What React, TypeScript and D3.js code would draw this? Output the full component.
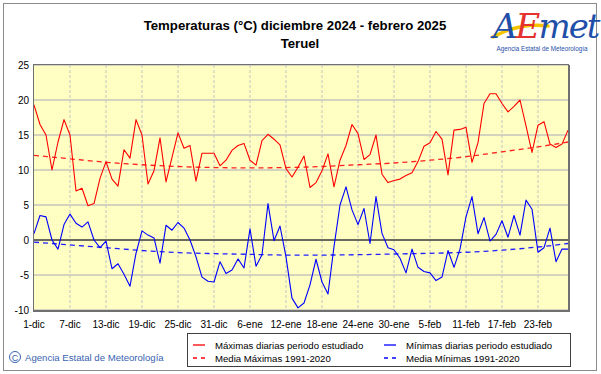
import React from "react";
import * as d3 from "d3";

const xTickDays = [0, 6, 12, 18, 24, 30, 36, 42, 48, 54, 60, 66, 72, 78, 84];
const xTickLabels = ["1-dic", "7-dic", "13-dic", "19-dic", "25-dic", "31-dic", "6-ene", "12-ene", "18-ene", "24-ene", "30-ene", "5-feb", "11-feb", "17-feb", "23-feb"];
const yTicks = [-10, -5, 0, 5, 10, 15, 20, 25];

// Daily maximum temperatures, 1 Dec 2024 .. 28 Feb 2025
const maxTemps = [
  19.3, 16.5, 15.0, 10.0, 14.0, 17.2, 15.0, 7.0, 7.4, 4.9,
  5.2, 8.8, 11.2, 8.7, 7.7, 12.9, 11.7, 17.2, 15.0, 8.0,
  9.9, 14.6, 8.3, 11.8, 15.3, 13.1, 13.5, 8.4, 12.4, 12.4,
  12.4, 10.6, 11.4, 12.8, 13.5, 13.8, 11.4, 10.7, 14.2, 15.1,
  14.4, 13.6, 10.2, 9.0, 10.4, 12.0, 7.5, 8.2, 9.9, 12.3,
  7.6, 11.4, 13.5, 16.5, 15.2, 11.5, 12.2, 15.0, 9.4, 8.2,
  8.5, 8.7, 9.2, 9.6, 11.2, 13.4, 13.9, 15.5, 14.4, 9.3,
  15.7, 15.8, 16.1, 11.1, 13.9, 19.5, 20.9, 20.9, 19.5, 18.3,
  19.1, 20.0, 16.3, 12.5, 16.4, 16.9, 13.7, 13.2, 13.7, 15.7,
];

// Daily minimum temperatures
const minTemps = [
  0.9, 3.5, 3.3, 0.0, -1.3, 2.2, 3.7, 2.4, 1.85, 2.6,
  0.0, -1.1, -0.15, -4.1, -3.4, -4.9, -6.6, -1.9, 1.3, 0.7,
  0.3, -3.3, 2.1, 1.4, 2.5, 1.7, 0.0, -2.4, -5.3, -5.9,
  -6.0, -3.1, -4.8, -4.3, -2.7, -4.0, 1.6, -3.75, -2.1, 5.2,
  -0.1, 2.0, -2.4, -8.3, -9.7, -9.0, -6.4, -2.75, -6.0, -7.7,
  -0.95, 5.0, 7.6, 4.3, 2.2, 4.5, -0.5, 6.2, 0.95, -1.1,
  -1.4, -2.6, -4.7, -1.3, -3.9, -4.5, -4.7, -5.8, -5.3, -1.5,
  -3.9, -1.3, 3.3, 6.2, 0.9, 3.2, -0.15, 0.8, 2.75, 0.4,
  3.5, 0.7, 5.7, 4.4, -1.75, -1.1, 1.7, -3.1, -1.3, -1.3,
];

// Climatological means 1991-2020 sampled at these days (smooth curves)
const normDays = [0, 6, 12, 18, 24, 30, 36, 42, 48, 54, 60, 66, 72, 78, 84, 89];
const normMax = [12.1, 11.6, 11.1, 10.75, 10.5, 10.35, 10.3, 10.35, 10.5, 10.75, 11.0, 11.4, 11.9, 12.6, 13.3, 14.0];
const normMin = [-0.3, -0.7, -1.1, -1.5, -1.8, -1.95, -2.05, -2.15, -2.15, -2.1, -2.0, -1.9, -1.75, -1.45, -1.0, -0.5];

const legendItems = [
  { label: "Máximas diarias periodo estudiado", color: "#ff0000", dash: "" },
  { label: "Mínimas diarias periodo estudiado", color: "#0000ff", dash: "" },
  { label: "Media Máximas 1991-2020", color: "#ff0000", dash: "4,4" },
  { label: "Media Mínimas 1991-2020", color: "#0000ff", dash: "4,4" },
];

const FONT = "Arial, 'Liberation Sans', Helvetica, sans-serif";

export default function App() {
  const W = 601, H = 374;
  const left = 34, right = 568, top = 65, bottom = 310;
  const x = d3.scaleLinear().domain([0, 89]).range([left, right]);
  const y = d3.scaleLinear().domain([-10, 25]).range([bottom, top]);

  const dayLine = d3.line<number>().x((_, i) => x(i)).y((d) => y(d));
  const normLine = d3
    .line<[number, number]>()
    .x((d) => x(d[0]))
    .y((d) => y(d[1]))
    .curve(d3.curveMonotoneX);

  const normMaxPts = normDays.map((d, i) => [d, normMax[i]] as [number, number]);
  const normMinPts = normDays.map((d, i) => [d, normMin[i]] as [number, number]);

  return (
    <svg
      width={W}
      height={H}
      style={{ position: "absolute", left: 0, top: 0, fontFamily: FONT }}
    >
      <defs>
        <pattern id="dots" width="2" height="2" patternUnits="userSpaceOnUse">
          <rect width="2" height="2" fill="#ffffc6" />
          <rect width="1" height="1" fill="#fcfcb8" />
        </pattern>
      </defs>
      <rect x={0} y={0} width={W} height={H} fill="#ffffff" />
      <rect x={3.5} y={3.5} width={593} height={367} fill="none" stroke="#8a8a8a" strokeWidth={1} />

      {/* Title */}
      <text x={295} y={30} textAnchor="middle" fontSize={13.2} fontWeight="bold" fill="#000">
        Temperaturas (°C) diciembre 2024 - febrero 2025
      </text>
      <text x={300} y={48} textAnchor="middle" fontSize={13.2} fontWeight="bold" fill="#000">
        Teruel
      </text>

      {/* Logo */}
      <g>
        <path d="M 493 37 Q 520 22 548 26" fill="none" stroke="#f5c400" strokeWidth={3.5} strokeLinecap="round" />
        <text x={493} y={38} fontSize={34} fontStyle="italic" fill="#1f4fa8" fontFamily="'DejaVu Serif', serif" letterSpacing={-2}>
          <tspan fill="#1f4fa8">A</tspan>
          <tspan fill="#e5322d">E</tspan>
          <tspan fill="#1f4fa8">met</tspan>
        </text>
        <text x={542} y={51} textAnchor="middle" fontSize={6.3} fill="#1f4fa8">
          Agencia Estatal de Meteorología
        </text>
      </g>

      {/* Plot background */}
      <rect x={left} y={top} width={right - left} height={bottom - top} fill="url(#dots)" />

      {/* Horizontal grid */}
      {yTicks.map((t) => (
        <line key={"h" + t} x1={left} x2={right} y1={y(t)} y2={y(t)} stroke="#a8a8b8" strokeWidth={1} />
      ))}
      {/* Vertical grid */}
      {xTickDays.slice(1).map((d) => (
        <line key={"v" + d} x1={x(d)} x2={x(d)} y1={top} y2={bottom} stroke="#c4c4c4" strokeWidth={1} strokeDasharray="3,2" />
      ))}
      {/* Zero line */}
      <line x1={left} x2={right} y1={y(0)} y2={y(0)} stroke="#000" strokeWidth={1.2} />

      {/* Normals */}
      <path d={normLine(normMaxPts) || ""} fill="none" stroke="#ff2020" strokeWidth={1.3} strokeDasharray="5,4" />
      <path d={normLine(normMinPts) || ""} fill="none" stroke="#2020ff" strokeWidth={1.3} strokeDasharray="5,4" />

      {/* Data */}
      <path d={dayLine(maxTemps) || ""} fill="none" stroke="#ff0000" strokeWidth={1.1} strokeLinejoin="round" />
      <path d={dayLine(minTemps) || ""} fill="none" stroke="#0000ff" strokeWidth={1.1} strokeLinejoin="round" />

      {/* Frame */}
      <rect x={left - 0.5} y={top - 0.5} width={right - left + 1} height={bottom - top + 1} fill="none" stroke="#707070" strokeWidth={1} />
      <line x1={left - 1} x2={right + 2} y1={bottom + 1} y2={bottom + 1} stroke="#707070" strokeWidth={2} />
      <line x1={right + 1} x2={right + 1} y1={top} y2={bottom + 2} stroke="#707070" strokeWidth={2} />

      {/* Y labels */}
      {yTicks.map((t) => (
        <text key={"yl" + t} x={29} y={y(t) + 3.5} textAnchor="end" fontSize={10} fill="#000">
          {t}
        </text>
      ))}
      {/* X labels */}
      {xTickDays.map((d, i) => (
        <text key={"xl" + d} x={x(d)} y={328} textAnchor="middle" fontSize={10} fill="#000">
          {xTickLabels[i]}
        </text>
      ))}

      {/* Copyright */}
      <g>
        <circle cx={15} cy={357} r={5.5} fill="none" stroke="#3a64b0" strokeWidth={1} />
        <text x={15} y={360.5} textAnchor="middle" fontSize={9} fill="#3a64b0">C</text>
        <text x={25} y={361} fontSize={9.6} fill="#3a64b0">Agencia Estatal de Meteorología</text>
      </g>

      {/* Legend */}
      <rect x={187.5} y={333.5} width={383} height={33} fill="#fff" stroke="#404040" strokeWidth={1} />
      {legendItems.map((it, i) => {
        const col = i % 2;
        const row = Math.floor(i / 2);
        const lx = col === 0 ? 193 : 384;
        const ly = row === 0 ? 345 : 358;
        return (
          <g key={"lg" + i}>
            <line x1={lx} x2={lx + 12} y1={ly} y2={ly} stroke={it.color} strokeWidth={1.3} strokeDasharray={it.dash || undefined} />
            <text x={lx + 22} y={ly + 3.5} fontSize={9.6} fill="#000">{it.label}</text>
          </g>
        );
      })}
    </svg>
  );
}
